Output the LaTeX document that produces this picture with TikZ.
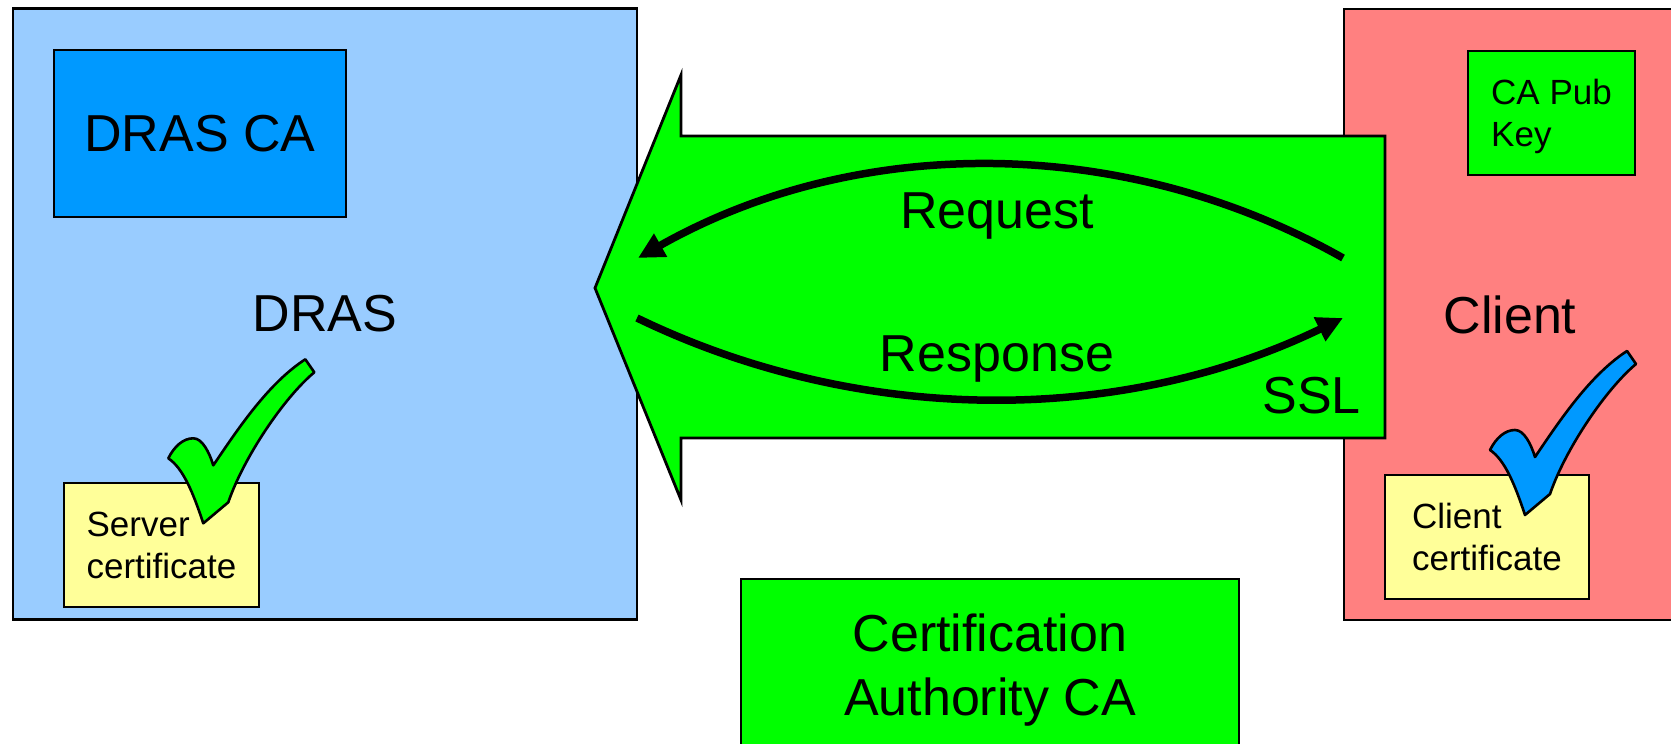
\documentclass[tikz,border=0pt]{standalone}
\usepackage{fontspec}
\setmainfont{Liberation Sans}
\usetikzlibrary{arrows.meta}

\definecolor{hostblue}{HTML}{99CCFF}
\definecolor{keyblue}{HTML}{0099FF}
\definecolor{hostred}{HTML}{FF8080}
\definecolor{brightgreen}{HTML}{00FF00}
\definecolor{certyellow}{HTML}{FFFF99}

\newcommand\diagbig{\fontsize{52}{64}\selectfont}
\newcommand\diagsmall{\fontsize{35}{42}\selectfont}

\tikzset{
  panel/.style={rectangle, draw=black, line width=2.8pt, inner sep=0pt, font=\diagbig},
  cert/.style={panel, fill=certyellow, font=\diagsmall, align=left, minimum height=124pt},
  label/.style={inner sep=0pt, font=\diagbig},
  conn/.style={line width=7.5pt, -{Triangle[length=26pt,width=25pt]}},
  tick/.pic={
    \path[pic actions, line width=2.6pt, line join=round]
      (0,0) .. controls (6,-12) and (15,-20) .. (25,-20)
      .. controls (34,-20) and (41,-6) .. (45,7)
      .. controls (70,-30) and (100,-75) .. (137,-99)
      -- (146,-86)
      .. controls (115,-60) and (75,0) .. (60,44)
      -- (35,65)
      .. controls (25,35) and (15,10) .. (0,0) -- cycle;
  }
}

\begin{document}
\begin{tikzpicture}[x=1pt, y=-1pt]
  \path[use as bounding box, fill=white] (0,0) rectangle (1671,744);
  \clip (0,0) rectangle (1671,744);

  % the two hosts
  \node[panel, fill=hostblue, minimum width=624pt, minimum height=611pt] (dras) at (325,314) {DRAS};
  \node[panel, fill=hostred, minimum width=332pt, minimum height=611pt] (client) at (1510,314.5) {Client};

  % keys held by each host
  \node[panel, fill=keyblue, minimum width=292pt, minimum height=167pt] (drasca) at (200,133.5) {DRAS CA};
  \node[panel, fill=brightgreen, font=\diagsmall, align=left, minimum width=167pt, minimum height=124pt] (capub) at (1551.5,113) {\rule{0pt}{33pt}CA Pub\\Key};

  % SSL channel
  \draw[line width=2.8pt, fill=brightgreen, line join=miter]
    (595,288) -- (681,75) -- (681,136) -- (1385,136) -- (1385,438)
    -- (681,438) -- (681,500) -- cycle;

  \coordinate (reqstart) at (1343,258);
  \coordinate (reqend) at (638,258);
  \coordinate (resstart) at (637,318);
  \coordinate (resend) at (1343,318);

  \draw[conn] (reqstart) .. controls (1124,134) and (857,134) .. (reqend);
  \draw[conn] (resstart) .. controls (859.5,425.8) and (1120.5,425.8) .. (resend);

  \node[label] (request) at (997,215.8) {Request};
  \node[label] (response) at (997,359.5) {Response};
  \node[label] (ssl) at (1311.5,395.5) {SSL};

  % certificates
  \node[cert, minimum width=195pt] (servercert) at (161.5,545) {Server\\certificate};
  \node[cert, minimum width=204pt] (clientcert) at (1487,537) {Client\\certificate};

  \pic[draw=black, fill=brightgreen] at (168.3,458.3) {tick};
  \pic[draw=black, fill=keyblue] at (1490,450) {tick};

  % issuing authority
  \node[panel, fill=brightgreen, align=center, minimum width=498pt, minimum height=182pt] (ca) at (990,670) {Certification\\Authority CA};
\end{tikzpicture}
\end{document}
